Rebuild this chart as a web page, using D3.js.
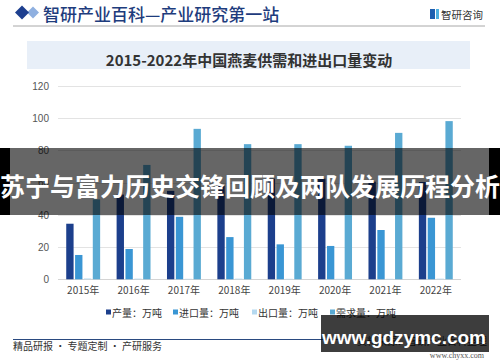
<!DOCTYPE html>
<html>
<head>
<meta charset="utf-8">
<script src="https://cdn.jsdelivr.net/npm/d3@7"></script>
<style>
  body { margin: 0; background: #fff; }
  svg { display: block; }
</style>
</head>
<body>
<div id="chart"></div>
<script>
// Data (万吨)
var years = ["2015年", "2016年", "2017年", "2018年", "2019年", "2020年", "2021年", "2022年"];
var production = [34.5, 52.6, 54.9, 58.1, 62.5, 62.5, 60.6, 60.4];
var imports = [15.1, 18.8, 38.8, 26.2, 21.7, 20.7, 30.6, 38.2];
var exports = [0.5, 0.4, 0.3, 0.4, 0.3, 0.3, 0.3, 0.4];
var demand = [49.6, 71.0, 93.4, 83.9, 83.9, 82.9, 90.9, 98.2];
var seriesNames = ["产量：万吨", "进口量：万吨", "出口量：万吨", "需求量：万吨"];
var yTicks = [0, 20, 40, 60, 80, 100, 120];

var w = 500;
var h = 362;

var svg = d3.select("#chart")
    .append("svg")
    .attr("width", w)
    .attr("height", h);

var cjk = "'Noto Sans CJK SC', 'Liberation Sans', sans-serif";
var latin = "'Liberation Sans', 'Noto Sans CJK SC', sans-serif";

// ---- page header ----
svg.append("path")
    .attr("d", "M27,12.5 L33,6.5 L39,12.5 L33,18.5 Z")
    .attr("fill", "#8fb0e0");
svg.append("path")
    .attr("d", "M15,12.5 L22,5.5 L29,12.5 L22,19.5 Z")
    .attr("fill", "#1d3f8f");
svg.append("text")
    .attr("x", 43).attr("y", 13)
    .attr("dominant-baseline", "central")
    .style("font-family", cjk)
    .style("font-size", "17px")
    .style("font-weight", 500)
    .style("fill", "#1e3c7d")
    .text("智研产业百科—产业研究第一站");

// small logo on the right
svg.append("rect").attr("x", 430).attr("y", 9).attr("width", 5).attr("height", 10).attr("fill", "#1d5fb0");
svg.append("rect").attr("x", 436).attr("y", 9).attr("width", 3).attr("height", 10).attr("fill", "#4fb0e0");
svg.append("text")
    .attr("x", 441).attr("y", 14)
    .attr("dominant-baseline", "central")
    .style("font-family", cjk)
    .style("font-size", "10.5px")
    .style("fill", "#333")
    .text("智研咨询");

svg.append("line")
    .attr("x1", 13).attr("x2", 485)
    .attr("y1", 26).attr("y2", 26)
    .attr("stroke", "#a8a8a8")
    .attr("stroke-width", 1);

// title box
svg.append("rect")
    .attr("x", 27).attr("y", 41)
    .attr("width", 443).attr("height", 28)
    .attr("fill", "#e8eff8");
svg.append("text")
    .attr("x", 249).attr("y", 59)
    .attr("text-anchor", "middle")
    .attr("dominant-baseline", "central")
    .style("font-family", cjk)
    .style("font-size", "15px")
    .style("font-weight", "bold")
    .style("fill", "#333")
    .text("2015-2022年中国燕麦供需和进出口量变动");

// ---- chart ----
var table = years.map(function(y, i) {
    return { year: y, values: [production[i], imports[i], exports[i], demand[i]] };
});

var x0 = d3.scaleBand()
    .domain(years)
    .range([58, 461])
    .padding(0);

var x1 = d3.scaleBand()
    .domain(d3.range(seriesNames.length))
    .range([0, x0.bandwidth()])
    .paddingInner(0.17)
    .paddingOuter(0.93);

var yScale = d3.scaleLinear()
    .domain([0, 120])
    .range([279.3, 86]);

var colors = ["#1c3f8c", "#3a96d4", "#b5d9f0", "#5aaad3"];

// grid lines
svg.append("g")
    .selectAll("line")
    .data(yTicks)
    .enter()
    .append("line")
    .attr("x1", 58).attr("x2", 461)
    .attr("y1", d => Math.round(yScale(d)) + 0.5)
    .attr("y2", d => Math.round(yScale(d)) + 0.5)
    .attr("stroke", d => d === 0 ? "#d4d4d4" : "#e3e3e3")
    .attr("stroke-width", 1);

// y axis labels
var yAxis = svg.append("g")
    .attr("transform", "translate(58,0)")
    .call(d3.axisLeft(yScale).tickValues(yTicks).tickSize(0).tickPadding(9));
yAxis.select(".domain").remove();
yAxis.selectAll("text")
    .style("font-family", latin)
    .style("font-size", "10px")
    .style("fill", "#555");

// bars
var groups = svg.append("g")
    .selectAll("g")
    .data(table)
    .enter()
    .append("g")
    .attr("transform", d => "translate(" + x0(d.year) + ",0)");

groups.selectAll("rect")
    .data(d => d.values)
    .enter()
    .append("rect")
    .attr("x", (d, i) => x1(i))
    .attr("width", x1.bandwidth())
    .attr("y", d => yScale(d))
    .attr("height", d => yScale(0) - yScale(d))
    .attr("fill", (d, i) => colors[i]);

// x axis labels
var xAxis = svg.append("g")
    .attr("transform", "translate(0,281)")
    .call(d3.axisBottom(x0).tickSize(0).tickPadding(6));
xAxis.select(".domain").remove();
xAxis.selectAll("text")
    .style("font-family", cjk)
    .style("font-size", "10px")
    .style("fill", "#444");

// legend
var legendX = [106, 173, 252, 330];
var legend = svg.append("g")
    .selectAll("g")
    .data(seriesNames)
    .enter()
    .append("g")
    .attr("transform", (d, i) => "translate(" + legendX[i] + ",312)");
legend.append("rect")
    .attr("x", 0).attr("y", -2.5)
    .attr("width", 5).attr("height", 5)
    .attr("fill", (d, i) => colors[i]);
legend.append("text")
    .attr("x", 6).attr("y", 0)
    .attr("dominant-baseline", "central")
    .style("font-family", cjk)
    .style("font-size", "10px")
    .style("fill", "#333")
    .text(d => d);

// ---- page footer ----
svg.append("line")
    .attr("x1", 13).attr("x2", 347)
    .attr("y1", 339.5).attr("y2", 339.5)
    .attr("stroke", "#2a4a80")
    .attr("stroke-width", 1);
svg.append("text")
    .attr("x", 13).attr("y", 345)
    .attr("dominant-baseline", "central")
    .style("font-family", cjk)
    .style("font-size", "10px")
    .style("fill", "#333")
    .text("精品研报 · 专题定制 · 产研服务");
svg.append("text")
    .attr("x", 487).attr("y", 340)
    .attr("text-anchor", "end")
    .attr("dominant-baseline", "central")
    .style("font-family", cjk)
    .style("font-size", "10px")
    .style("fill", "#333")
    .text("资料来源：智研产业百科整理");
svg.append("text")
    .attr("x", 484).attr("y", 355)
    .attr("text-anchor", "end")
    .attr("dominant-baseline", "central")
    .style("font-family", "'Liberation Serif', serif")
    .style("font-size", "8px")
    .style("fill", "#555")
    .text("www.chyxx.com");

// ---- overlays on top of the picture ----
// a translucent black band across the chart, pure black at the two edges
svg.append("rect")
    .attr("x", 0).attr("y", 148)
    .attr("width", 10).attr("height", 67)
    .attr("fill", "#000");
svg.append("rect")
    .attr("x", 489).attr("y", 148)
    .attr("width", 11).attr("height", 67)
    .attr("fill", "#000");
svg.append("rect")
    .attr("x", 10).attr("y", 148)
    .attr("width", 479).attr("height", 67)
    .attr("fill", "#000")
    .attr("fill-opacity", 0.6);
svg.append("text")
    .attr("x", 250).attr("y", 184.5)
    .attr("text-anchor", "middle")
    .attr("dominant-baseline", "central")
    .style("font-family", cjk)
    .style("font-size", "25px")
    .style("font-weight", "bold")
    .style("fill", "#fff")
    .text("苏宁与富力历史交锋回顾及两队发展历程分析");

// site stamp bottom right
svg.append("rect")
    .attr("x", 321).attr("y", 315)
    .attr("width", 168).attr("height", 37)
    .attr("fill", "#000")
    .attr("fill-opacity", 0.76);
svg.append("text")
    .attr("x", 404).attr("y", 337)
    .attr("text-anchor", "middle")
    .attr("dominant-baseline", "central")
    .style("font-family", latin)
    .style("font-size", "19px")
    .style("font-weight", "bold")
    .style("fill", "#fff")
    .text("www.gdzymc.com");
</script>
</body>
</html>
